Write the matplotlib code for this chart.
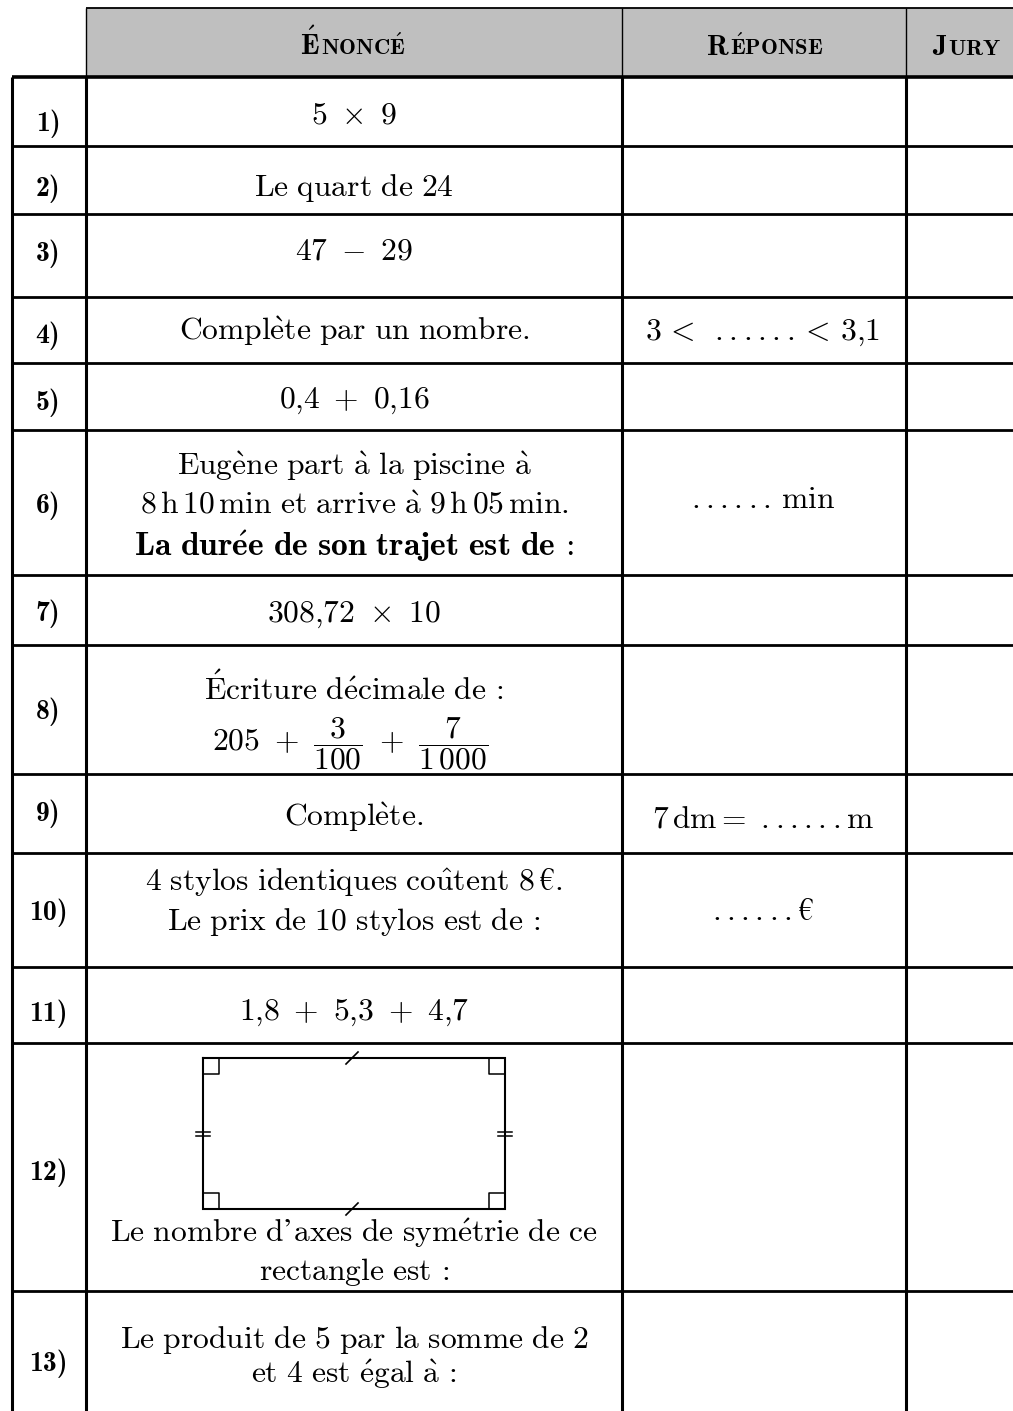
import re
import matplotlib
matplotlib.use("Agg")
import matplotlib.pyplot as plt
from matplotlib.patches import Rectangle

plt.rcParams['mathtext.fontset'] = 'cm'
plt.rcParams['mathtext.fallback'] = 'stixsans'

# ---------------- data ----------------
labels = ['1)', '2)', '3)', '4)', '5)', '6)', '7)', '8)', '9)', '10)', '11)', '12)', '13)']

enonce = [
    ['5 × 9'],
    ['Le quart de 24'],
    ['47 − 29'],
    ['Complète par un nombre.'],
    ['0,4 + 0,16'],
    ['Eugène part à la piscine à', '8\u2009h\u200910\u2009min et arrive à 9\u2009h\u200905\u2009min.',
     'La durée de son trajet est de\u2009:'],
    ['308,72 × 10'],
    ['Écriture décimale de\u2009:', None],
    ['Complète.'],
    ['4 stylos identiques coûtent 8\u2009€.', 'Le prix de 10 stylos est de\u2009:'],
    ['1,8 + 5,3 + 4,7'],
    ["Le nombre d’axes de symétrie de ce", 'rectangle est\u2009:'],
    ['Le produit de 5 par la somme de 2', 'et 4 est égal à\u2009:'],
]
bold_lines = {(5, 2)}
fraction_line = r'$\mathrm{205}\ +\ \dfrac{3}{100}\ +\ \dfrac{7}{1\,000}$'

reponse = ['', '', '', '3\u2009<\u2009 ......<\u20093,1', '', '......\u2009min', '', '',
           '7\u2009dm= ......m', '......€', '', '', '']

headers = [('É', 'NONCÉ'), ('R', 'ÉPONSE'), ('J', 'URY')]

# ---------------- layout ----------------
W, H = 1013, 1411
col_x = [12, 86, 622, 906, 1013]
hdr_top = 8
row_edges = [77, 146, 214, 297, 363, 430, 575, 645, 774, 853, 967, 1043, 1291, 1411]
label_base = [131, 196, 261, 343, 410, 513, 621, 719, 821, 920, 1021, 1180, 1371]
text_base = [[123], [196], [260], [340], [408], [475, 514, 556], [622], [700, 750],
             [826], [890, 930], [1020], [1242, 1280], [1348, 1383]]
resp_base = [0, 0, 0, 340, 0, 508, 0, 0, 827, 920, 0, 0, 0]
hdr_base = 55
label_x = 48
enonce_x = 354
reponse_x = 763
header_x = [353, 765, 967]
FS = 22.7
BFS = 24.2
LFS = 20
HFS_BIG, HFS_SMALL = 20.5, 16.3
rect_box = (203, 1058, 505, 1209)   # x0, y0, x1, y1 of the drawn figure in row 12

ACC = {'é': r'\acute{e}', 'è': r'\grave{e}', 'à': r'\grave{a}', 'û': r'\hat{u}',
       'É': r'\acute{E}', '×': r'\times', '−': '-', '\u2009': r'\,', ' ': r'\ '}


def tx(s, bold=False):
    s = re.sub(r'(\d),(\d)', r'\1{,}\2', s)
    out = ''.join(ACC.get(c, c) for c in s)
    return '$\\math%s{%s}$' % ('bf' if bold else 'rm', out)


fig = plt.figure(figsize=(W / 100, H / 100), dpi=100)
ax = fig.add_axes([0, 0, 1, 1])
ax.set_xlim(0, W)
ax.set_ylim(H, 0)
ax.axis('off')

# header
ax.add_patch(Rectangle((col_x[1], hdr_top), W - col_x[1], row_edges[0] - hdr_top,
                       facecolor='#bfbfbf', edgecolor='none', zorder=0))
ax.hlines(hdr_top, col_x[1], W, color='black', lw=1.3)
ax.vlines(col_x[1:4], hdr_top, row_edges[0], color='black', lw=1.0)

# grid
ax.hlines(row_edges[0], col_x[0], W, color='black', lw=2.6)
ax.hlines(row_edges[1:-1], col_x[0], W, color='black', lw=2.0)
ax.vlines(col_x[:4], row_edges[0], H, color='black', lw=2.2)

renderer = fig.canvas.get_renderer()
for (first, rest), xc in zip(headers, header_x):
    t1 = ax.text(0, hdr_base, tx(first, True), fontsize=HFS_BIG, ha='left', va='baseline')
    t2 = ax.text(0, hdr_base, tx(rest, True), fontsize=HFS_SMALL, ha='left', va='baseline')
    w1 = t1.get_window_extent(renderer).width
    w2 = t2.get_window_extent(renderer).width
    x0 = xc - (w1 + w2 + 1) / 2
    t1.set_x(x0)
    t2.set_x(x0 + w1 + 1)

for i, lab in enumerate(labels):
    ax.text(label_x, label_base[i], lab, fontsize=LFS, family='cmb10',
            ha='center', va='baseline')
    for j, line in enumerate(enonce[i]):
        if line is None:
            ax.text(350, text_base[i][j], fraction_line, fontsize=FS, ha='center', va='baseline')
        else:
            b = (i, j) in bold_lines
            ax.text(enonce_x, text_base[i][j], tx(line, b), fontsize=BFS if b else FS,
                    ha='center', va='baseline')
    if reponse[i]:
        ax.text(reponse_x, resp_base[i], tx(reponse[i]), fontsize=FS, ha='center', va='baseline')

# rectangle figure (row 12)
x0, y0, x1, y1 = rect_box
ax.plot([x0, x1, x1, x0, x0], [y0, y0, y1, y1, y0], color='black', lw=1.5, solid_joinstyle='miter')
s = 16
for cx, cy, dx, dy in [(x0, y0, 1, 1), (x1, y0, -1, 1), (x1, y1, -1, -1), (x0, y1, 1, -1)]:
    ax.plot([cx + dx * s, cx + dx * s, cx], [cy, cy + dy * s, cy + dy * s], color='black', lw=1.1)
xm = (x0 + x1) / 2 - 2
for yy in (y0, y1):
    ax.plot([xm - 6, xm + 6], [yy + 6, yy - 6], color='black', lw=1.2)
ym = (y0 + y1) / 2
for xx in (x0, x1):
    for off in (-2, 2):
        ax.plot([xx - 7, xx + 7], [ym + off, ym + off], color='black', lw=1.1)

fig.savefig('out.png', dpi=100)
